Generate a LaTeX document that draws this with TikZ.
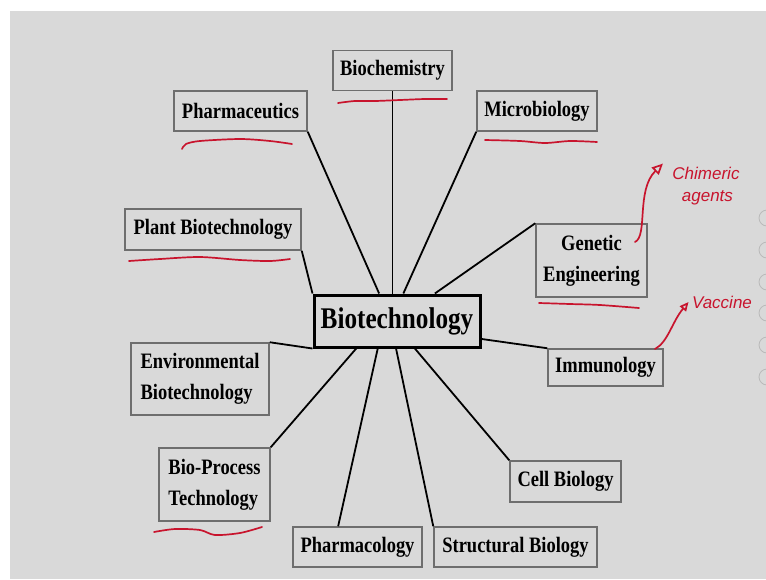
\documentclass[tikz,border=0pt]{standalone}
\usepackage{fontspec}
\setmainfont{Liberation Serif}[FakeStretch=0.84]
\newfontfamily\inkfont{Liberation Sans}
\usetikzlibrary{arrows.meta}
\definecolor{slide}{RGB}{217,217,217}
\definecolor{frame}{RGB}{110,110,110}
\definecolor{ink}{RGB}{200,20,45}
\tikzset{topic/.style={draw=frame,line width=1.5pt,fill=slide,inner sep=0pt,font=\fontsize{22}{31}\selectfont\bfseries},
  hub/.style={draw=black,line width=3pt,fill=slide,inner sep=0pt,font=\fontsize{30}{36}\selectfont\bfseries},
  inkline/.style={ink,line width=1.7pt,line cap=round,line join=round}}
\newcommand{\branch}[2]{\draw[line width=1.8pt] (#1) -- (#2);}
\newcommand{\underink}[1]{\draw[inkline] plot[smooth] coordinates {#1};}

\begin{document}
\begin{tikzpicture}[x=1pt,y=-1pt]
    \useasboundingbox (0,0) rectangle (766,579);
    \fill[slide] (10,11) rectangle (766,579);
    \foreach \yy in {218,250,282,313,345,377} \draw[gray!55,line width=0.8pt] (767,\yy) circle (8);

    \node[hub,minimum width=166pt,minimum height=52pt] (biotech) at (397,321) {Biotechnology};
    \node[topic,minimum width=119pt,minimum height=40pt] (biochem) at (392.5,70.5) {Biochemistry};
    \node[topic,minimum width=133pt,minimum height=40pt] (pharmaceutics) at (240.5,111) {Pharmaceutics};
    \node[topic,minimum width=120pt,minimum height=40pt] (microbio) at (537,111) {Microbiology};
    \node[topic,minimum width=176pt,minimum height=41pt] (plant) at (213,229.5) {Plant Biotechnology};
    \node[topic,minimum width=111pt,minimum height=73pt,align=center] (genetic) at (591.5,260.5) {Genetic\\Engineering};
    \node[topic,minimum width=115pt,minimum height=37pt] (immuno) at (605.5,367.5) {Immunology};
    \node[topic,minimum width=138pt,minimum height=72pt,align=left] (environ) at (200,379) {Environmental\\Biotechnology};
    \node[topic,minimum width=111pt,minimum height=73pt,align=left] (bioprocess) at (214.5,484.5) {Bio-Process\\Technology};
    \node[topic,minimum width=129pt,minimum height=40pt] (pharmacology) at (357.5,547) {Pharmacology};
    \node[topic,minimum width=163pt,minimum height=40pt] (structural) at (515.5,547) {Structural Biology};
    \node[topic,minimum width=111pt,minimum height=41pt] (cellbio) at (565.5,481.5) {Cell Biology};

    \branch{pharmaceutics.south east}{biotech.123}\branch{biochem.south}{biotech.north -| biochem.south}
    \branch{microbio.south west}{biotech.77}\branch{plant.south east}{biotech.north west}
    \branch{genetic.north west}{biotech.36}\branch{immuno.north west}{biotech.-12}
    \branch{environ.north east}{biotech.south west}\branch{bioprocess.north east}{biotech.214}
    \branch{pharmacology.133}{biotech.235}\branch{structural.north west}{biotech.268}
    \branch{cellbio.north west}{biotech.303}

    % red notes written over the slide
    \underink{(338,103) (355,101) (375,101) (400,100) (425,99) (447,99)}
    \underink{(182,149) (186,144) (200,141) (240,139) (270,141) (292,144)}
    \underink{(485,140) (520,141) (545,143) (570,141) (597,142)}
    \underink{(129,261) (160,259) (200,257) (240,260) (270,261) (290,259)}
    \underink{(539,303) (570,304) (600,305) (639,308)}
    \underink{(154,532) (175,529) (200,530) (215,535) (240,533) (262,527)}
    \node[ink,font=\inkfont\itshape\fontsize{17}{22}\selectfont,align=left] (chimeric) at (706,186) {Chimeric\\\ \ agents};
    \node[ink,font=\inkfont\itshape\fontsize{17}{22}\selectfont] (vaccine) at (722,302) {Vaccine};
    \coordinate (gtail) at (635,242); \coordinate (itail) at (655,349);
    \draw[inkline,-{Triangle[open,length=11pt,width=10pt]}] (gtail) .. controls (648,236) and (636,190) .. ([xshift=-6pt]chimeric.north west);
    \draw[inkline,-{Triangle[open,length=9pt,width=8pt]}] (itail) .. controls (668,342) and (672,322) .. (vaccine.west);
\end{tikzpicture}
\end{document}
